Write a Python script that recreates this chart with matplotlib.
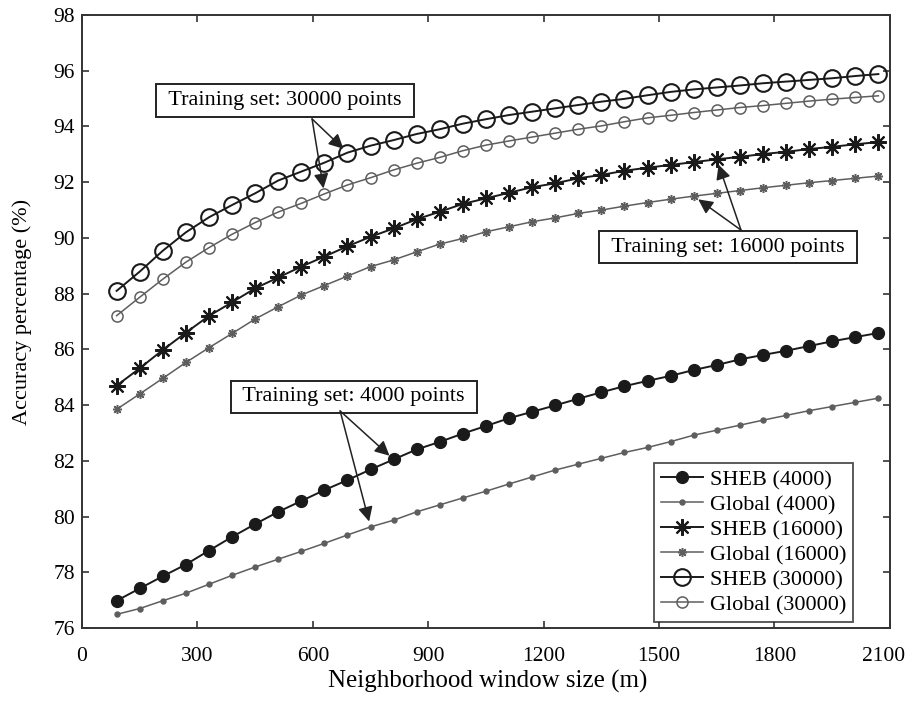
import numpy as np
import matplotlib.pyplot as plt
from matplotlib.transforms import ScaledTranslation

plt.rcParams['font.family'] = ['Liberation Serif', 'DejaVu Serif']

# neighborhood window sizes (m)
window = [90, 150, 210, 270, 330, 390, 450, 510, 570, 630, 690, 750, 810, 870,
          930, 990, 1050, 1110, 1170, 1230, 1290, 1350, 1410, 1470, 1530, 1590,
          1650, 1710, 1770, 1830, 1890, 1950, 2010, 2070]

# accuracy (%) per method and training set size
sheb_4000 = [76.98, 77.42, 77.86, 78.28, 78.78, 79.27, 79.73, 80.17, 80.56, 80.95,
             81.31, 81.69, 82.05, 82.41, 82.68, 82.98, 83.25, 83.53, 83.76, 83.99,
             84.23, 84.46, 84.68, 84.87, 85.05, 85.26, 85.44, 85.64, 85.80, 85.95,
             86.12, 86.29, 86.44, 86.59]
global_4000 = [76.49, 76.70, 76.98, 77.25, 77.57, 77.89, 78.19, 78.47, 78.75, 79.04,
               79.34, 79.63, 79.87, 80.17, 80.42, 80.67, 80.91, 81.17, 81.42, 81.67,
               81.88, 82.09, 82.30, 82.48, 82.69, 82.92, 83.10, 83.28, 83.46, 83.63,
               83.80, 83.95, 84.10, 84.25]
sheb_16000 = [84.70, 85.32, 85.98, 86.60, 87.20, 87.69, 88.19, 88.58, 88.97, 89.33,
              89.70, 90.04, 90.34, 90.67, 90.94, 91.22, 91.42, 91.62, 91.82, 91.96,
              92.14, 92.26, 92.41, 92.52, 92.62, 92.72, 92.82, 92.91, 93.01, 93.09,
              93.19, 93.27, 93.36, 93.44]
global_16000 = [83.85, 84.40, 84.96, 85.53, 86.06, 86.57, 87.09, 87.53, 87.95, 88.29,
                88.63, 88.97, 89.21, 89.50, 89.78, 89.98, 90.22, 90.40, 90.58, 90.72,
                90.88, 91.00, 91.14, 91.27, 91.39, 91.50, 91.60, 91.70, 91.80, 91.89,
                91.98, 92.06, 92.14, 92.22]
sheb_30000 = [88.10, 88.79, 89.54, 90.20, 90.74, 91.18, 91.60, 92.06, 92.38, 92.70,
              93.06, 93.31, 93.51, 93.73, 93.90, 94.10, 94.26, 94.41, 94.53, 94.65,
              94.77, 94.89, 94.99, 95.12, 95.24, 95.33, 95.40, 95.47, 95.55, 95.61,
              95.67, 95.73, 95.81, 95.88]
global_30000 = [87.21, 87.87, 88.52, 89.13, 89.65, 90.13, 90.55, 90.93, 91.24, 91.58,
                91.90, 92.16, 92.44, 92.68, 92.89, 93.13, 93.33, 93.48, 93.62, 93.76,
                93.90, 94.02, 94.17, 94.31, 94.40, 94.50, 94.59, 94.68, 94.75, 94.83,
                94.91, 94.98, 95.04, 95.10]

x_ticks = [0, 300, 600, 900, 1200, 1500, 1800, 2100]
y_ticks = [76, 78, 80, 82, 84, 86, 88, 90, 92, 94, 96, 98]

dark = '#1a1a1a'
grey = '#5e5e5e'
star = (8, 2, 0)

fig = plt.figure(figsize=(9.09, 7.14), dpi=100)
ax = fig.add_axes([0.0902, 0.1204, 0.8888, 0.8586])

ax.plot(window, sheb_4000, color=dark, lw=1.4, marker='o', ms=8.5,
        mfc=dark, mec=dark, label='SHEB (4000)')
ax.plot(window, global_4000, color=grey, lw=1.1, marker='o', ms=3.6,
        mfc=grey, mec=grey, label='Global (4000)')
ax.plot(window, sheb_16000, color=dark, lw=1.4, marker=star, ms=12,
        mew=1.5, mec=dark, label='SHEB (16000)')
ax.plot(window, global_16000, color=grey, lw=1.1, marker=star, ms=6.5,
        mew=1.1, mec=grey, label='Global (16000)')
ax.plot(window, sheb_30000, color=dark, lw=1.4, marker='o', ms=12,
        mfc='none', mew=1.5, mec=dark, label='SHEB (30000)')
ax.plot(window, global_30000, color=grey, lw=1.1, marker='o', ms=8,
        mfc='none', mew=1.1, mec=grey, label='Global (30000)')

ax.set_xlim(0, 2100)
ax.set_ylim(76, 98)
ax.set_xticks(x_ticks)
ax.set_yticks(y_ticks)
ax.tick_params(direction='in', length=5, width=1.2, top=True, right=True,
               labelsize=15.5, colors='#333333', labelcolor='black')
ax.tick_params(axis='x', pad=14)
ax.tick_params(axis='y', pad=5)
for sp in ax.spines.values():
    sp.set_linewidth(1.4)
    sp.set_color('#333333')

# pull the last x label in a little so it stays inside the figure
last = ax.get_xticklabels()[-1]
last.set_transform(last.get_transform() +
                   ScaledTranslation(-6 / 100, 0, fig.dpi_scale_trans))

fig.text(0.536, 0.045, 'Neighborhood window size (m)', ha='center', va='center',
         fontsize=18)
fig.text(0.024, 0.563, 'Accuracy percentage (%)', ha='center', va='center',
         rotation=90, fontsize=16)

leg = ax.legend(loc='lower right', bbox_to_anchor=(0.954, 0.010), fontsize=16,
                frameon=True, fancybox=False, edgecolor='#222222',
                handlelength=1.9, handletextpad=0.3, labelspacing=0.2,
                borderpad=0.3, borderaxespad=0.0)
leg.get_frame().set_linewidth(1.3)

# labelled boxes with arrows pointing at the curves
box = dict(boxstyle='square,pad=0.3', fc='white', ec='#222222', lw=1.4)
arrow = dict(arrowstyle='-|>', color='#222222', lw=1.1, mutation_scale=22,
             shrinkA=0, shrinkB=4)

ax.text(528, 94.93, ' Training set: 30000 points ', ha='center', va='center',
        fontsize=16, bbox=box)
ax.annotate('', xy=(window[10], sheb_30000[10]), xytext=(598, 94.27),
            arrowprops=arrow)
ax.annotate('', xy=(window[9], global_30000[9]), xytext=(598, 94.27),
            arrowprops=arrow)

ax.text(1679, 89.67, ' Training set: 16000 points ', ha='center', va='center',
        fontsize=16, bbox=box)
ax.annotate('', xy=(window[26], sheb_16000[26]), xytext=(1713, 90.28),
            arrowprops=arrow)
ax.annotate('', xy=(window[25], global_16000[25]), xytext=(1713, 90.28),
            arrowprops=arrow)

ax.text(707, 84.30, ' Training set: 4000 points ', ha='center', va='center',
        fontsize=16, bbox=box)
ax.annotate('', xy=(window[12], sheb_4000[12]), xytext=(671, 83.79),
            arrowprops=arrow)
ax.annotate('', xy=(window[11], global_4000[11]), xytext=(671, 83.79),
            arrowprops=arrow)

fig.savefig('out.png', dpi=100)
